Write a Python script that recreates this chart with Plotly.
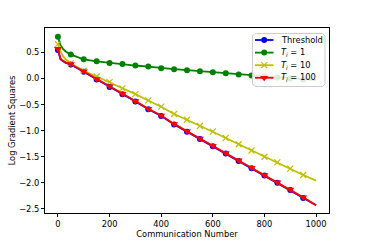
import plotly.graph_objects as go

# x positions (line readings) and marker positions
x_line = [0, 5, 10, 20, 30, 50, 100, 150, 200, 250, 300, 350, 400, 450, 500,
          550, 600, 650, 700, 750, 800, 850, 900, 950, 1000]
x_mark = list(range(0, 1000, 50))

threshold = [0.55, 0.43, 0.37, 0.33, 0.30, 0.27, 0.13, -0.02, -0.16, -0.30, -0.44, -0.59,
             -0.72, -0.88, -1.02, -1.16, -1.30, -1.44, -1.58, -1.72, -1.86, -2.00, -2.14, -2.29, -2.43]
t1 = [0.80, 0.70, 0.64, 0.57, 0.52, 0.46, 0.37, 0.33, 0.30, 0.28, 0.25, 0.23, 0.20,
      0.18, 0.16, 0.14, 0.12, 0.10, 0.08, 0.06, 0.04, 0.02, 0.00, -0.02, -0.03]
t10 = [0.66, 0.58, 0.52, 0.43, 0.37, 0.29, 0.15, 0.04, -0.07, -0.19, -0.30, -0.42, -0.54,
       -0.68, -0.79, -0.91, -1.02, -1.14, -1.26, -1.38, -1.50, -1.61, -1.73, -1.85, -1.96]
t100 = [0.57, 0.44, 0.38, 0.34, 0.31, 0.28, 0.14, -0.01, -0.15, -0.29, -0.43, -0.58, -0.71,
        -0.87, -1.01, -1.15, -1.29, -1.43, -1.57, -1.71, -1.85, -1.99, -2.13, -2.28, -2.43]

y_ticks = [-2.5, -2.0, -1.5, -1.0, -0.5, 0.0, 0.5]
y_tick_text = ["\u22122.5", "\u22122.0", "\u22121.5", "\u22121.0", "\u22120.5", "0.0", "0.5"]
x_ticks = [0, 200, 400, 600, 800, 1000]

labels = ["Threshold",
          "<i>T</i><sub><i>i</i></sub> = 1",
          "<i>T</i><sub><i>i</i></sub> = 10",
          "<i>T</i><sub><i>i</i></sub> = 100"]
values = [threshold, t1, t10, t100]
colors = ["#0000ff", "#008000", "#bfbf00", "#ff0000"]
symbols = ["circle", "circle", "x-thin", "triangle-down"]
msizes = [6, 6, 6, 7]
mlines = [0, 0, 1.2, 0]

FS = 8.3
fig = go.Figure()
for ys, col, sym, ms, mlw in zip(values, colors, symbols, msizes, mlines):
    lookup = dict(zip(x_line, ys))
    fig.add_trace(go.Scatter(x=x_line, y=ys, mode="lines", line=dict(color=col, width=1.8),
                             showlegend=False, hoverinfo="skip"))
    fig.add_trace(go.Scatter(x=x_mark, y=[lookup[v] for v in x_mark], mode="markers",
                             marker=dict(symbol=sym, size=ms, color=col,
                                         line=dict(color=col, width=mlw)),
                             showlegend=False))

# custom legend, drawn in a pixel-like overlay coordinate system (x: 45..329, y: 213..28)
bx0, bx1, by0, by1, r = 252.5, 325, 33.5, 86.5, 2.5
box_x = [bx0 + r, bx1 - r, bx1, bx1, bx1 - r, bx0 + r, bx0, bx0, bx0 + r]
box_y = [by0, by0, by0 + r, by1 - r, by1, by1, by1 - r, by0 + r, by0]
fig.add_trace(go.Scatter(x=box_x, y=box_y, xaxis="x2", yaxis="y2", mode="lines",
                         fill="toself", fillcolor="rgba(255,255,255,0.85)",
                         line=dict(color="#cccccc", width=1), showlegend=False, hoverinfo="skip"))
row_y = [40, 52.6, 65.2, 77.8]
for lab, col, sym, ms, mlw, ry in zip(labels, colors, symbols, msizes, mlines, row_y):
    fig.add_trace(go.Scatter(x=[255, 273.5], y=[ry, ry], xaxis="x2", yaxis="y2", mode="lines",
                             line=dict(color=col, width=1.8), showlegend=False, hoverinfo="skip"))
    fig.add_trace(go.Scatter(x=[264.2], y=[ry], xaxis="x2", yaxis="y2", mode="markers",
                             marker=dict(symbol=sym, size=ms, color=col,
                                         line=dict(color=col, width=mlw)),
                             showlegend=False, hoverinfo="skip"))
    fig.add_annotation(x=279, y=ry, xref="x2", yref="y2", text=lab, showarrow=False,
                       xanchor="left", yanchor="middle", font=dict(size=FS, color="black"))

axis_common = dict(showgrid=False, zeroline=False, showline=True, linecolor="black",
                   linewidth=1, mirror=True, ticks="outside", ticklen=3, tickwidth=0.8,
                   tickcolor="black", tickfont=dict(size=FS, color="black"), automargin=False)

fig.update_layout(
    width=366, height=244,
    margin=dict(l=45, r=37, t=28, b=31),
    paper_bgcolor="white", plot_bgcolor="white",
    font=dict(family="DejaVu Sans", size=FS, color="black"),
    showlegend=False,
    xaxis=dict(range=[-50, 1050], tickvals=x_ticks,
               title=dict(text="Communication Number", font=dict(size=FS), standoff=3),
               **axis_common),
    yaxis=dict(range=[-2.58, 0.97], tickvals=y_ticks, ticktext=y_tick_text,
               title=dict(text="Log Gradient Squares", font=dict(size=FS), standoff=2),
               **axis_common),
    xaxis2=dict(overlaying="x", range=[45, 329], visible=False, fixedrange=True),
    yaxis2=dict(overlaying="y", range=[213, 28], visible=False, fixedrange=True),
)

fig.write_html("out.html", config={"displayModeBar": False},
               post_script="document.body.style.margin='0px';document.body.style.overflow='hidden';")
